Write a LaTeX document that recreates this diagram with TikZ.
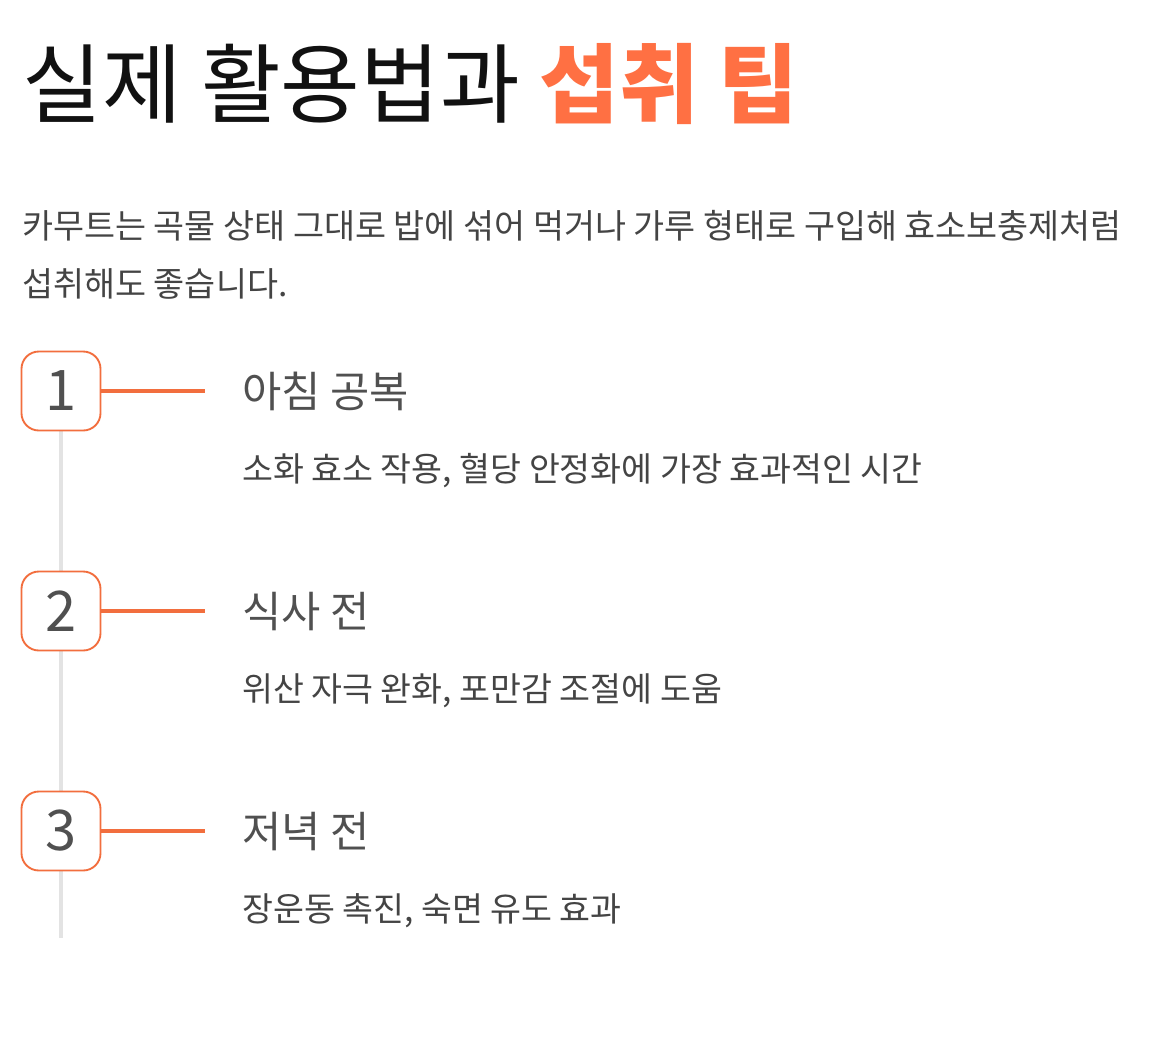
\documentclass[tikz,border=0pt]{standalone}
\usepackage{fontspec}
\setmainfont{Noto Sans CJK KR}
\usepackage{tikz}
\usetikzlibrary{positioning,calc,backgrounds}
\definecolor{InkBlack}{HTML}{111111}
\definecolor{TipOrange}{HTML}{FF7043}
\definecolor{LineOrange}{HTML}{F26E3E}
\definecolor{BodyGray}{HTML}{444444}
\definecolor{HeadGray}{HTML}{505050}
\definecolor{RailGray}{HTML}{E3E3E3}
\tikzset{
  ttl/.style={anchor=base west,inner sep=0pt,font=\fontsize{65pt}{74pt}\selectfont,text=InkBlack},
  intro/.style={anchor=base west,inner sep=0pt,font=\fontsize{25.3pt}{30pt}\selectfont,text=BodyGray},
  numbox/.style={draw=LineOrange,fill=white,line width=1.4pt,rounded corners=13pt,
    minimum width=59.25pt,minimum height=59.25pt,inner sep=0pt,outer sep=0pt,
    font=\fontsize{42pt}{44pt}\selectfont,text=HeadGray},
  hd/.style={anchor=base west,inner sep=0pt,font=\fontsize{32pt}{36pt}\selectfont,text=HeadGray},
  desc/.style={anchor=base west,inner sep=0pt,font=\fontsize{25.2pt}{30pt}\selectfont,text=BodyGray},
  link/.style={draw=LineOrange,line width=2.4pt},
  rail/.style={draw=RailGray,line width=2.6pt},
}
\begin{document}
\begin{tikzpicture}[x=0.75pt,y=-0.75pt,node distance=105.75pt]
\useasboundingbox (0,0) rectangle (1170,1036);
% title and intro
\node[ttl] (title) at (22,116) {실제 활용법과 \textcolor{TipOrange}{\bfseries 섭취 팁}};
\node[intro] (line1) at (22,238) {카무트는 곡물 상태 그대로 밥에 섞어 먹거나 가루 형태로 구입해 효소보충제처럼};
\node[intro] (line2) at (22,296) {섭취해도 좋습니다.};

% steps
\node[numbox] (n1) at (61,391) {1};
\node[numbox,below=of n1] (n2) {2};
\node[numbox,below=of n2] (n3) {3};

\node[hd] (h1) at ($(n1)+(181,16)$) {아침 공복};
\node[desc] (d1) at ($(n1)+(181,90)$) {소화 효소 작용, 혈당 안정화에 가장 효과적인 시간};
\node[hd] (h2) at ($(n2)+(181,16)$) {식사 전};
\node[desc] (d2) at ($(n2)+(181,90)$) {위산 자극 완화, 포만감 조절에 도움};
\node[hd] (h3) at ($(n3)+(181,16)$) {저녁 전};
\node[desc] (d3) at ($(n3)+(181,90)$) {장운동 촉진, 숙면 유도 효과};

\foreach \n in {1,2,3}{
  \coordinate (e\n) at ($(n\n.east)+(104,0)$);
  \draw[link] (n\n.east) -- (e\n);
}

% timeline rail
\coordinate (railend) at ($(n3.south)+(0,67)$);
\begin{scope}[on background layer]
  \draw[rail] (n1.south) -- (railend);
\end{scope}
\end{tikzpicture}
\end{document}
